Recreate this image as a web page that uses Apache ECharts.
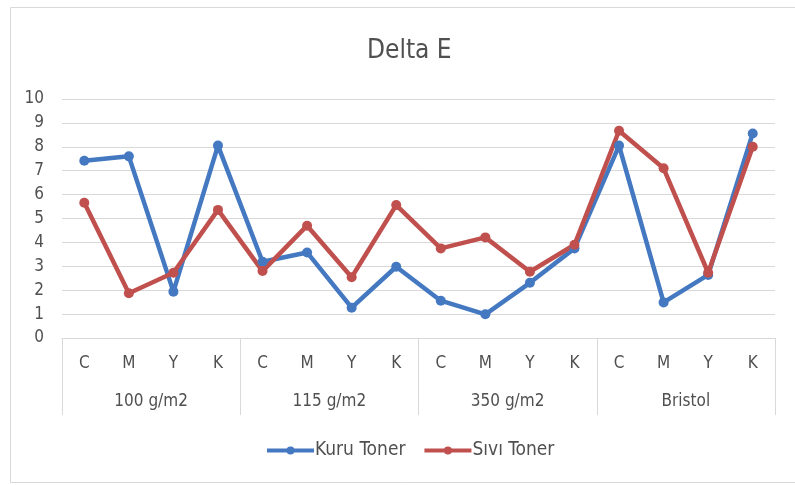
<!DOCTYPE html>
<html>
<head>
<meta charset="utf-8">
<script src="https://cdn.jsdelivr.net/npm/echarts@6/dist/echarts.min.js"></script>
<style>
html,body{margin:0;padding:0;background:#fff;}
#c{width:795px;height:485px;}
</style>
</head>
<body>
<div id="c"></div>
<script>
const categories = ['C','M','Y','K','C','M','Y','K','C','M','Y','K','C','M','Y','K'];
const groups = ['100 g/m2','115 g/m2','350 g/m2','Bristol'];
const kuruToner = [7.42, 7.6, 1.94, 8.05, 3.19, 3.58, 1.27, 2.98, 1.56, 0.99, 2.31, 3.75, 8.05, 1.49, 2.64, 8.56];
const siviToner = [5.66, 1.87, 2.73, 5.36, 2.8, 4.7, 2.54, 5.56, 3.75, 4.21, 2.77, 3.9, 8.67, 7.1, 2.73, 8.0];
const yTicks = {min: 0, max: 10, interval: 1};

const FONT = '"Liberation Sans Narrow", "DejaVu Sans Condensed", "Open Sans", sans-serif';
const TXT = '#505050';
const LINE = '#d9d9d9';

const chart = echarts.init(document.getElementById('c'), null, {renderer: 'canvas'});
chart.setOption({
  backgroundColor: '#fff',
  animation: false,
  textStyle: {fontFamily: FONT},
  title: {
    text: 'Delta E', left: 362, top: 33,
    textStyle: {fontFamily: FONT, fontSize: 26, fontWeight: 'normal', color: TXT}
  },
  graphic: [{
    type: 'rect', shape: {x: 10.5, y: 7.5, width: 800, height: 475},
    style: {fill: 'none', stroke: LINE, lineWidth: 1}, silent: true
  }],
  legend: {
    top: 436, left: 260, itemWidth: 47, itemHeight: 10, itemGap: 17,
    lineStyle: {width: 4},
    textStyle: {fontFamily: FONT, fontSize: 19, color: TXT, padding: [0, 0, 0, -4]},
    data: ['Kuru Toner', 'Sıvı Toner']
  },
  grid: {left: 62, right: 20, top: 99, bottom: 147},
  xAxis: [{
    type: 'category', data: categories, boundaryGap: true, position: 'bottom',
    axisLine: {show: true, lineStyle: {color: LINE, width: 1}},
    axisTick: {show: false},
    axisLabel: {interval: 0, margin: 17, fontSize: 17, color: TXT, fontFamily: FONT},
    splitLine: {show: false}
  }, {
    type: 'category', data: groups, boundaryGap: true, position: 'bottom', offset: 0,
    axisLine: {show: false},
    axisTick: {show: true, length: 77, interval: 0, lineStyle: {color: LINE, width: 1}},
    axisLabel: {interval: 0, margin: 55, fontSize: 17, color: TXT, fontFamily: FONT},
    splitLine: {show: false}
  }],
  yAxis: {
    type: 'value', min: yTicks.min, max: yTicks.max, interval: yTicks.interval,
    axisLine: {show: false}, axisTick: {show: false},
    axisLabel: {fontSize: 17, color: TXT, margin: 18, fontFamily: FONT},
    splitLine: {lineStyle: {color: LINE, width: 1}}
  },
  series: [{
    name: 'Kuru Toner', type: 'line', xAxisIndex: 0, data: kuruToner,
    symbol: 'circle', symbolSize: 10,
    lineStyle: {color: '#4479C2', width: 4.5},
    itemStyle: {color: '#4479C2'}
  }, {
    name: 'Sıvı Toner', type: 'line', xAxisIndex: 0, data: siviToner,
    symbol: 'circle', symbolSize: 10,
    lineStyle: {color: '#C0504D', width: 4.5},
    itemStyle: {color: '#C0504D'}
  }]
});
</script>
</body>
</html>
